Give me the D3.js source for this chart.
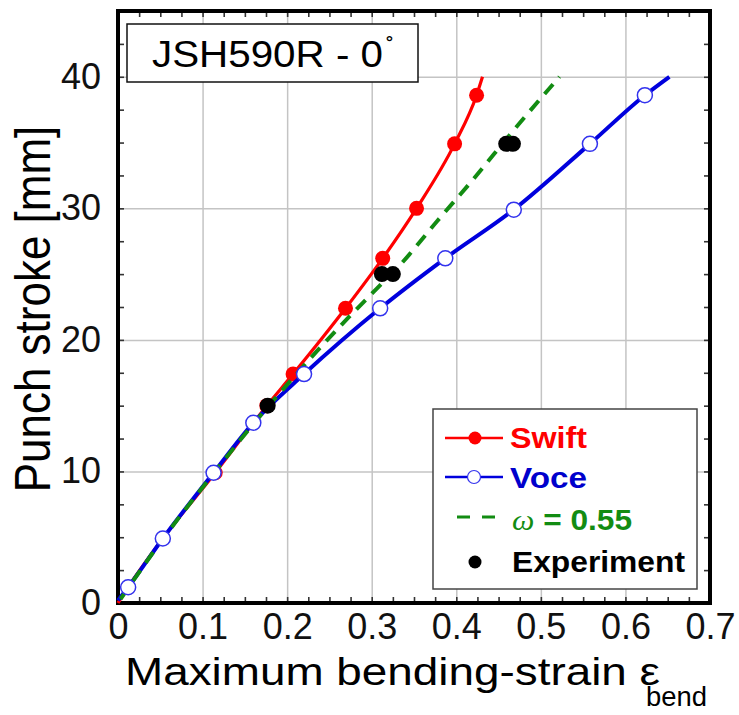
<!DOCTYPE html>
<html>
<head>
<meta charset="utf-8">
<script src="https://cdn.jsdelivr.net/npm/d3@7"></script>
<style>
  body { margin: 0; background: #fff; }
  text { font-family: "Liberation Sans", Arial, sans-serif; }
</style>
</head>
<body>
<div id="chart"></div>
<script>
// data
const swiftX = [0, 0.012, 0.053, 0.115, 0.176, 0.207, 0.269, 0.313, 0.353, 0.398, 0.424, 0.431];
const swiftY = [0, 1.2, 4.9, 9.9, 15.0, 17.4, 22.4, 26.2, 30.0, 34.9, 38.6, 40.0];
const swiftMarked = [false, true, true, true, true, true, true, true, true, true, true, false];

const voceX = [0, 0.012, 0.053, 0.113, 0.160, 0.220, 0.310, 0.387, 0.468, 0.558, 0.623, 0.652];
const voceY = [0.2, 1.2, 4.9, 9.9, 13.7, 17.4, 22.4, 26.2, 29.9, 34.9, 38.6, 40.0];
const voceMarked = [false, true, true, true, true, true, true, true, true, true, true, false];

const omegaX = [0.003, 0.05, 0.11, 0.16, 0.20, 0.236, 0.274, 0.306, 0.335, 0.377, 0.42, 0.466, 0.522];
const omegaY = [0.3, 4.6, 9.6, 13.6, 16.6, 19.2, 21.8, 23.9, 25.8, 29.0, 32.2, 35.8, 40.0];

const expX = [0.177, 0.312, 0.325, 0.459, 0.467];
const expY = [15.0, 25.0, 25.0, 34.9, 34.9];

const xTicks = [0, 0.1, 0.2, 0.3, 0.4, 0.5, 0.6, 0.7];
const yTicks = [0, 10, 20, 30, 40];
const xMinor = d3.range(0, 0.7001, 0.025);
const yMinor = d3.range(0, 45.001, 2.5);

const width = 739, height = 715;
const plotL = 118, plotR = 710, plotT = 11, plotB = 603;

const svg = d3.select("#chart").append("svg")
    .attr("width", width)
    .attr("height", height);

const x = d3.scaleLinear().domain([0, 0.7]).range([plotL, plotR]);
const y = d3.scaleLinear().domain([0, 45]).range([plotB, plotT]);

// grid
svg.append("g")
    .attr("transform", `translate(0,${plotB})`)
    .call(d3.axisBottom(x).tickValues(xTicks.slice(1, -1)).tickSize(-(plotB - plotT)).tickFormat(""))
    .call(g => g.select(".domain").remove())
    .call(g => g.selectAll(".tick line").attr("stroke", "#c4c4c4").attr("stroke-width", 1.5));
svg.append("g")
    .attr("transform", `translate(${plotL},0)`)
    .call(d3.axisLeft(y).tickValues(yTicks.slice(1)).tickSize(-(plotR - plotL)).tickFormat(""))
    .call(g => g.select(".domain").remove())
    .call(g => g.selectAll(".tick line").attr("stroke", "#c4c4c4").attr("stroke-width", 1.5));

// minor ticks on all four sides, pointing inward
function minorTicks(axis, tr) {
  svg.append("g")
      .attr("transform", tr)
      .call(axis.tickSize(-6).tickFormat(""))
      .call(g => g.select(".domain").remove())
      .call(g => g.selectAll(".tick line").attr("stroke", "#333").attr("stroke-width", 1.6));
}
minorTicks(d3.axisBottom(x).tickValues(xMinor), `translate(0,${plotB})`);
minorTicks(d3.axisTop(x).tickValues(xMinor), `translate(0,${plotT})`);
minorTicks(d3.axisLeft(y).tickValues(yMinor), `translate(${plotL},0)`);
minorTicks(d3.axisRight(y).tickValues(yMinor), `translate(${plotR},0)`);

// tick labels
svg.append("g")
    .attr("transform", `translate(0,${plotB})`)
    .call(d3.axisBottom(x).tickValues(xTicks).tickSize(0).tickPadding(10).tickFormat(d => d === 0 ? "0" : d3.format(".1f")(d)))
    .call(g => g.select(".domain").remove())
    .call(g => g.selectAll("text").attr("font-size", 36).attr("fill", "#111")
        .attr("font-family", "Liberation Sans, Arial, sans-serif"));
svg.append("g")
    .attr("transform", `translate(${plotL},0)`)
    .call(d3.axisLeft(y).tickValues(yTicks).tickSize(0).tickPadding(17))
    .call(g => g.select(".domain").remove())
    .call(g => g.selectAll("text").attr("font-size", 36).attr("fill", "#111")
        .attr("font-family", "Liberation Sans, Arial, sans-serif"));

// frame
svg.append("rect")
    .attr("x", plotL).attr("y", plotT)
    .attr("width", plotR - plotL).attr("height", plotB - plotT)
    .attr("fill", "none").attr("stroke", "#000").attr("stroke-width", 4);

// curves
const line = d3.line().x(d => x(d[0])).y(d => y(d[1])).curve(d3.curveMonotoneX);
const swift = swiftX.map((v, i) => [v, swiftY[i], swiftMarked[i]]);
const voce = voceX.map((v, i) => [v, voceY[i], voceMarked[i]]);
const omega = omegaX.map((v, i) => [v, omegaY[i]]);
const exper = expX.map((v, i) => [v, expY[i]]);

svg.append("path").datum(swift).attr("d", line)
    .attr("fill", "none").attr("stroke", "#ff0000").attr("stroke-width", 3.2);
svg.append("g").selectAll("circle").data(swift.filter(d => d[2])).join("circle")
    .attr("cx", d => x(d[0])).attr("cy", d => y(d[1])).attr("r", 7.5)
    .attr("fill", "#ff0000");

svg.append("path").datum(voce).attr("d", line)
    .attr("fill", "none").attr("stroke", "#0000dd").attr("stroke-width", 4);
svg.append("path").datum(omega).attr("d", line)
    .attr("fill", "none").attr("stroke", "#128c12").attr("stroke-width", 4)
    .attr("stroke-dasharray", "13,9");
svg.append("g").selectAll("circle").data(voce.filter(d => d[2])).join("circle")
    .attr("cx", d => x(d[0])).attr("cy", d => y(d[1])).attr("r", 7.5)
    .attr("fill", "#fff").attr("stroke", "#3333ee").attr("stroke-width", 1.5);

svg.append("g").selectAll("circle").data(exper).join("circle")
    .attr("cx", d => x(d[0])).attr("cy", d => y(d[1])).attr("r", 8)
    .attr("fill", "#000");

// title box
svg.append("rect")
    .attr("x", 127).attr("y", 24).attr("width", 291).attr("height", 58)
    .attr("fill", "#fff").attr("stroke", "#111").attr("stroke-width", 1.5);
svg.append("text")
    .attr("x", 152).attr("y", 67)
    .attr("font-size", 37).attr("fill", "#000")
    .attr("textLength", 231).attr("lengthAdjust", "spacingAndGlyphs")
    .text("JSH590R - 0");
svg.append("text")
    .attr("x", 386).attr("y", 55)
    .attr("font-size", 24).attr("fill", "#000")
    .text("˚");

// axis titles
svg.append("text")
    .attr("x", 125).attr("y", 685)
    .attr("font-size", 38).attr("fill", "#000")
    .attr("textLength", 535).attr("lengthAdjust", "spacingAndGlyphs")
    .text("Maximum bending-strain ε");
svg.append("text")
    .attr("x", 646).attr("y", 706)
    .attr("font-size", 27).attr("fill", "#000")
    .attr("textLength", 61).attr("lengthAdjust", "spacingAndGlyphs")
    .text("bend");
svg.append("text")
    .attr("transform", "translate(50,309) scale(1.12,1) rotate(-90)")
    .attr("text-anchor", "middle")
    .attr("font-size", 44).attr("fill", "#000")
    .text("Punch stroke [mm]");

// legend
const lg = svg.append("g");
lg.append("rect")
    .attr("x", 433).attr("y", 409).attr("width", 264).attr("height", 180)
    .attr("fill", "#fff").attr("stroke", "#444").attr("stroke-width", 1.5);

lg.append("line").attr("x1", 445).attr("x2", 503).attr("y1", 438).attr("y2", 438)
    .attr("stroke", "#ff0000").attr("stroke-width", 2.5);
lg.append("circle").attr("cx", 475).attr("cy", 438).attr("r", 6.5).attr("fill", "#ff0000");
lg.append("text").attr("x", 510).attr("y", 448)
    .attr("font-size", 29).attr("font-weight", "bold").attr("fill", "#ff0000")
    .attr("textLength", 77).attr("lengthAdjust", "spacingAndGlyphs").text("Swift");

lg.append("line").attr("x1", 445).attr("x2", 503).attr("y1", 477).attr("y2", 477)
    .attr("stroke", "#0000dd").attr("stroke-width", 2.5);
lg.append("circle").attr("cx", 474).attr("cy", 477).attr("r", 6.5)
    .attr("fill", "#fff").attr("stroke", "#3333ee").attr("stroke-width", 1.2);
lg.append("text").attr("x", 510).attr("y", 488)
    .attr("font-size", 29).attr("font-weight", "bold").attr("fill", "#0000cc")
    .attr("textLength", 77).attr("lengthAdjust", "spacingAndGlyphs").text("Voce");

lg.append("line").attr("x1", 457).attr("x2", 498).attr("y1", 517).attr("y2", 517)
    .attr("stroke", "#128c12").attr("stroke-width", 3).attr("stroke-dasharray", "13,12");
const om = lg.append("text").attr("x", 512).attr("y", 530)
    .attr("font-size", 29).attr("font-weight", "bold").attr("fill", "#128c12")
    .attr("textLength", 120).attr("lengthAdjust", "spacingAndGlyphs");
om.append("tspan").attr("font-style", "italic").attr("font-weight", "normal")
    .attr("font-family", "Liberation Serif, serif").text("ω");
om.append("tspan").text(" = 0.55");

lg.append("circle").attr("cx", 475).attr("cy", 562).attr("r", 6.5).attr("fill", "#000");
lg.append("text").attr("x", 512).attr("y", 572)
    .attr("font-size", 29).attr("font-weight", "bold").attr("fill", "#000")
    .attr("textLength", 173).attr("lengthAdjust", "spacingAndGlyphs").text("Experiment");
</script>
</body>
</html>
